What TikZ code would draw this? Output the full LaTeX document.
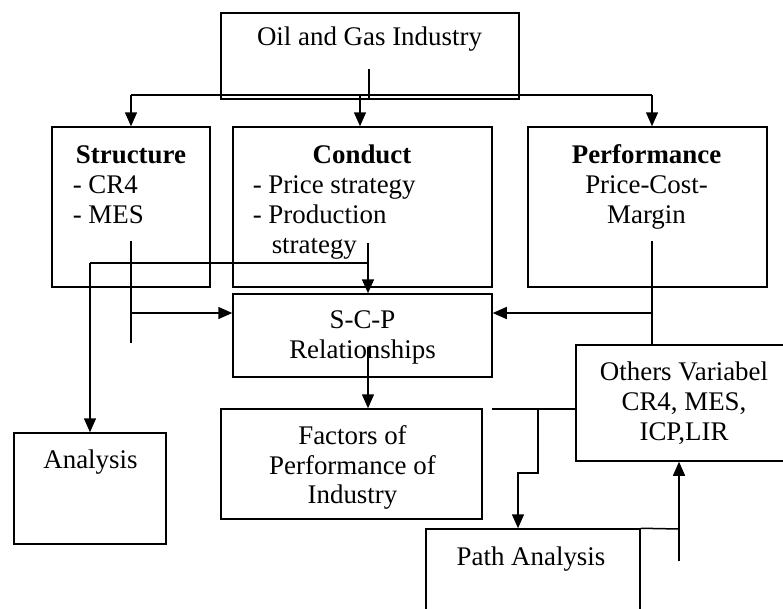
\documentclass[tikz,border=0pt]{standalone}
\usepackage{fontspec}
\setmainfont{Liberation Serif}
\usetikzlibrary{arrows.meta,calc}
\begin{document}
\begin{tikzpicture}[x=1pt,y=-1pt, line width=1.5pt,
  box/.style={draw, rectangle, inner sep=0pt},
  txt/.style={inner sep=0pt, anchor=base, font=\fontsize{26.9}{30}\selectfont},
  txl/.style={txt, anchor=base west},
  arr/.style={-{Triangle[length=14pt,width=12pt]}}]
\clip (0,0) rectangle (783,608);
\fill[white] (0,0) rectangle (783,608);
% boxes
\node[box, minimum width=298pt, minimum height=86pt] (oil) at (370,56) {};
\node[box, minimum width=158pt, minimum height=160pt] (struct) at (131,207) {};
\node[box, minimum width=259pt, minimum height=160pt] (cond) at (362.5,207) {};
\node[box, minimum width=239pt, minimum height=160pt] (perf) at (647.5,207) {};
\node[box, minimum width=259pt, minimum height=83pt] (scp) at (362.5,335.5) {};
\node[box, minimum width=261pt, minimum height=110pt] (fact) at (351.5,464) {};
\node[box, minimum width=152pt, minimum height=111pt] (anal) at (90,488.5) {};
\node[box, minimum width=224pt, minimum height=116pt] (oth) at (688,403) {};
\node[box, minimum width=214pt, minimum height=100pt] (pa) at (533,579) {};
% texts
\node[txt] (t-oil) at (369.5,45) {Oil and Gas Industry};
\node[txt] (t-s0) at (131,163) {\textbf{Structure}};
\node[txl] (t-s1) at (72,193) {- CR4};
\node[txl] (t-s2) at (72,223) {- MES};
\node[txt] (t-c0) at (362,163) {\textbf{Conduct}};
\node[txl] (t-c1) at (252,193) {- Price strategy};
\node[txl] (t-c2) at (252,223) {- Production};
\node[txl] (t-c3) at (271,253) {strategy};
\node[txt] (t-p0) at (646.5,163) {\textbf{Performance}};
\node[txt] (t-p1) at (646.5,193) {Price-Cost-};
\node[txt] (t-p2) at (646.5,223) {Margin};
\node[txt] (t-r0) at (362.5,328) {S-C-P};
\node[txt] (t-r1) at (362.5,358) {Relationships};
\node[txt] (t-f0) at (352.5,444) {Factors of};
\node[txt] (t-f1) at (352.5,474) {Performance of};
\node[txt] (t-f2) at (352.5,503) {Industry};
\node[txt] (t-a0) at (90.5,468) {Analysis};
\node[txt] (t-o0) at (684,380) {Others Variabel};
\node[txt] (t-o1) at (684,410) {CR4, MES,};
\node[txt] (t-o2) at (684,440) {ICP,LIR};
\node[txt] (t-pa) at (531,565) {Path Analysis};
% coordinates
\coordinate (oilin) at (369,69);
\coordinate (busL) at (131,95);
\coordinate (busR) at (652,95);
\coordinate (busC) at (360,95);
\coordinate (sin) at (131,241);
\coordinate (send) at (131,343);
\coordinate (sj) at (131,313);
\coordinate (cin) at (368,243);
\coordinate (cj) at (368,263);
\coordinate (aj) at (90,263);
\coordinate (scpin) at (368,347);
\coordinate (pin) at (652,241);
\coordinate (pj) at (652,313);
\coordinate (ow) at (576,409);
\coordinate (oe) at (492,409);
\coordinate (oj) at (538,409);
\coordinate (ok) at (538,473);
\coordinate (ol) at (518,473);
\coordinate (pr) at (679,529);
\coordinate (pup) at (679,561);
% connectors
\draw (oilin) -- (oilin |- oil.south);
\draw (busL) -- (busR);
\draw[arr] (busL) -- (busL |- struct.north);
\draw[arr] (busC) -- (busC |- cond.north);
\draw[arr] (busR) -- (busR |- perf.north);
\draw (sin) -- (send);
\draw[arr] (sj) -- (sj -| scp.west);
\draw[arr] (cin) -- (cin |- scp.north);
\draw (cj) -- (aj);
\draw[arr] (aj) -- (anal.north);
\draw[arr] (scpin) -- (scpin |- fact.north);
\draw (pin) -- (pin |- oth.north);
\draw[arr] (pj) -- (pj -| scp.east);
\draw (ow) -- (oe);
\draw[arr] (oj) -- (ok) -- (ol) -- (ol |- pa.north);
\draw (pa.north east) -- (pr);
\draw[arr] (pup) -- (pup |- oth.south);
\end{tikzpicture}
\end{document}
